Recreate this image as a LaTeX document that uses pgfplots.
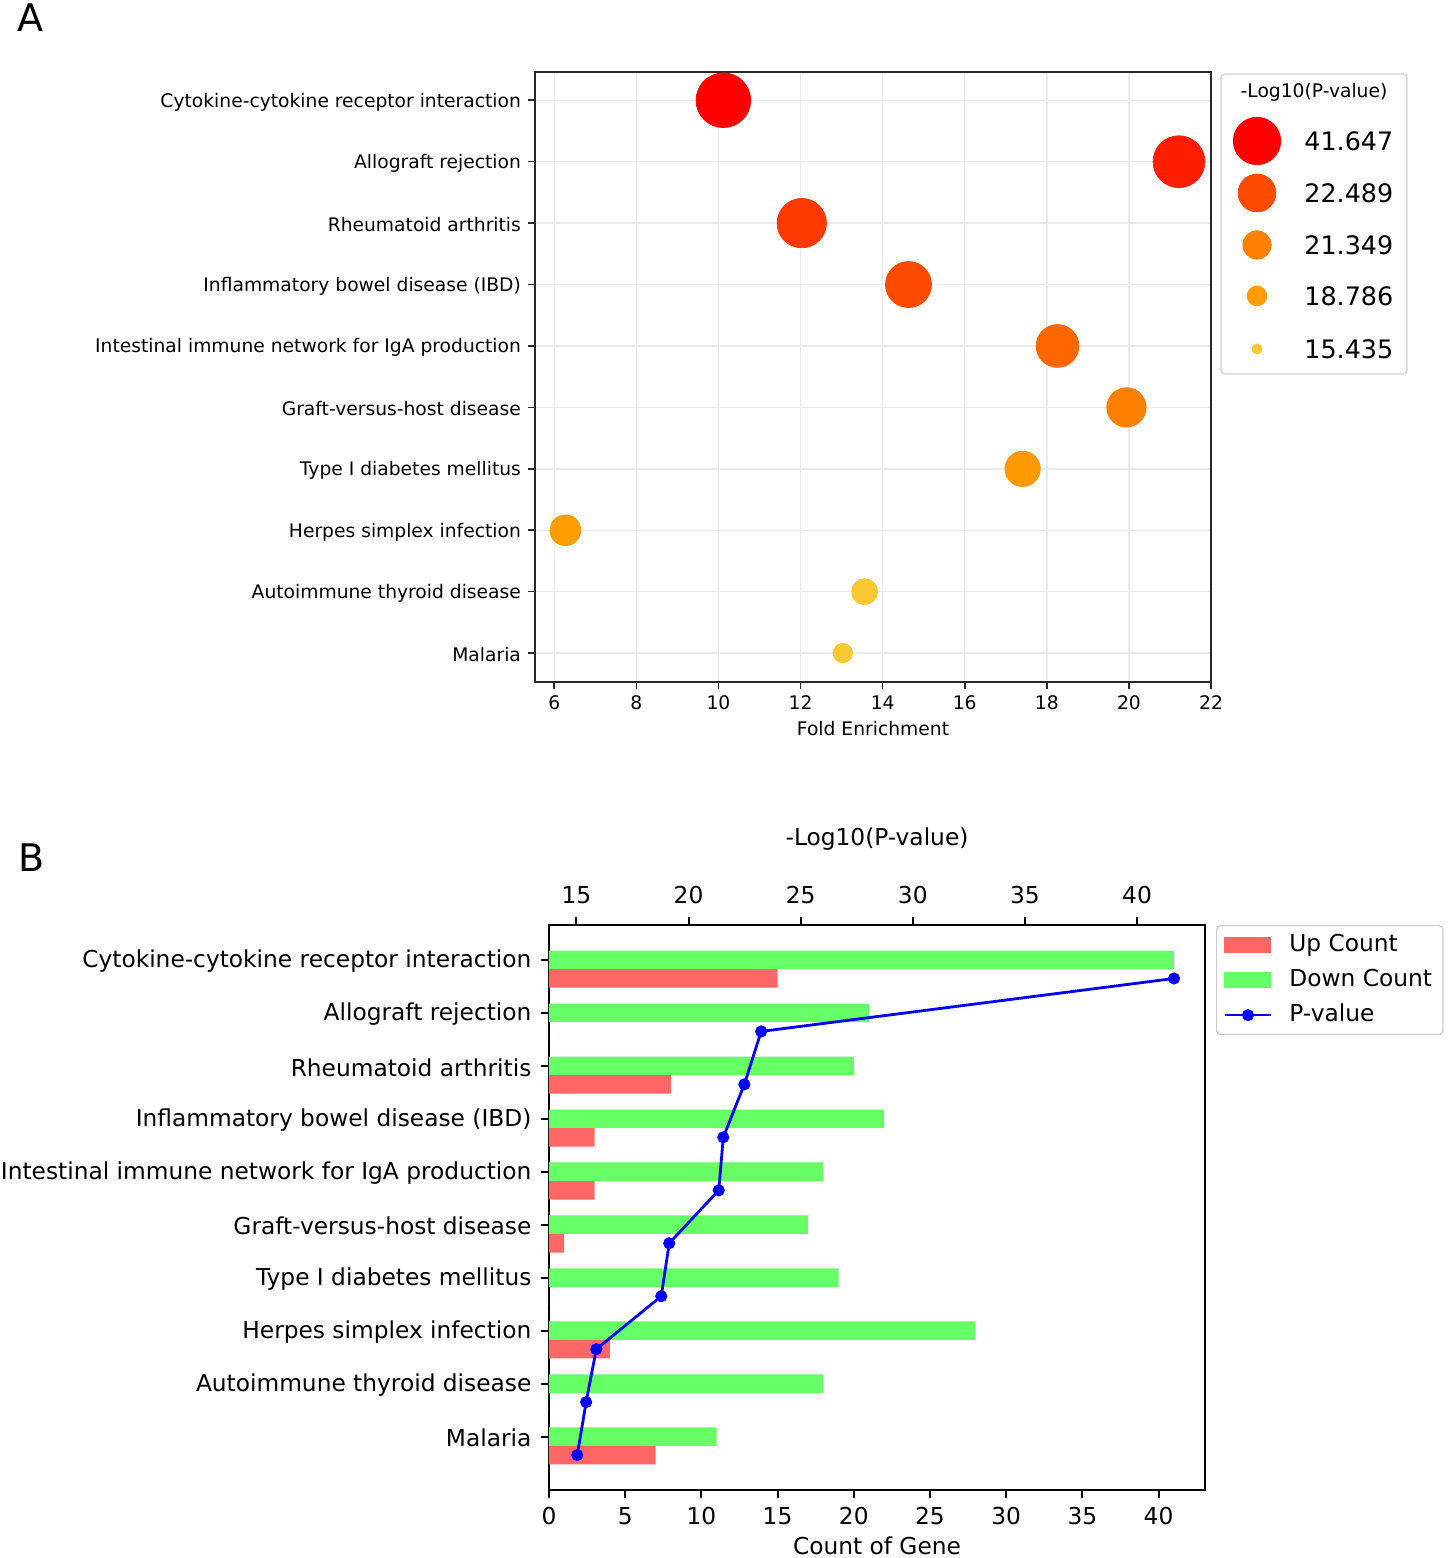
\documentclass[border=0pt]{standalone}
\usepackage{pgfplots}
\pgfplotsset{compat=1.18}
\usepackage{pgfplotstable}
\usepackage{fontspec}
\setmainfont{DejaVu Sans}

\definecolor{gridc}{RGB}{235,235,235}
\definecolor{upc}{HTML}{FF6666}
\definecolor{downc}{HTML}{66FF66}
\definecolor{axc}{RGB}{40,40,40}
\definecolor{b0}{HTML}{FF0000}
\definecolor{b1}{HTML}{FF1E00}
\definecolor{b2}{HTML}{FF3A00}
\definecolor{b3}{HTML}{FF4B00}
\definecolor{b4}{HTML}{FF6600}
\definecolor{b5}{HTML}{FF8000}
\definecolor{b6}{HTML}{FF9900}
\definecolor{b7}{HTML}{FF9C00}
\definecolor{b8}{HTML}{FAC832}
\definecolor{b9}{HTML}{FAC832}
\definecolor{l1}{HTML}{FF4B00}
\definecolor{l2}{HTML}{FF8000}

\newcommand{\fA}{\fontsize{9.35}{11}\selectfont}
\newcommand{\fB}{\fontsize{11.65}{14}\selectfont}

% Panel A: fold enrichment, row, -log10 p, class (bubble size/colour)
\pgfplotstableread{
fe idx pv cls
10.12 0 41.647 c0
21.22 1 23.24 c1
12.03 2 22.489 c2
14.63 3 21.55 c3
18.26 4 21.349 c4
19.94 5 19.14 c5
17.41 6 18.786 c6
6.27 7 15.89 c7
13.56 8 15.435 c8
13.03 9 15.04 c9
}\bubbles

% Panel A legend keys (positions in legend box)
\pgfplotstableread{
x y cls
1257 141 k0
1257 193 k1
1257 245 k2
1257 296 k3
1257 349 k4
}\legA

% Panel B
\pgfplotstableread{
idx down up pv
0 41 15 41.647
1 21 0 23.24
2 20 8 22.489
3 22 3 21.55
4 18 3 21.349
5 17 1 19.14
6 19 0 18.786
7 28 4 15.89
8 18 0 15.435
9 11 7 15.04
}\barsB

\def\cats{{Cytokine-cytokine receptor interaction},{Allograft rejection},{Rheumatoid arthritis},{Inflammatory bowel disease (IBD)},{Intestinal immune network for IgA production},{Graft-versus-host disease},{Type I diabetes mellitus},{Herpes simplex infection},{Autoimmune thyroid disease},{Malaria}}

\pgfplotsset{/pgf/number format/assume math mode=true}

\begin{document}
\begin{tikzpicture}
\useasboundingbox (0,0) rectangle (723.5pt,779pt);

% Panel labels
\node[anchor=base west, inner sep=0pt, font=\fontsize{19}{22}\selectfont] at (8.5pt,763pt) {A};
\node[anchor=base west, inner sep=0pt, font=\fontsize{19}{22}\selectfont] at (9pt,343pt) {B};

% ---------------- Panel A ----------------
\begin{axis}[
  at={(267.5pt,438pt)}, anchor=south west,
  scale only axis, width=338pt, height=305pt,
  xmin=5.53, xmax=22, ymin=-0.46, ymax=9.47, y dir=reverse,
  xtick={6,8,...,22}, ytick={0,...,9}, yticklabels/.expand once=\cats,
  grid=major, grid style={gridc, line width=0.75pt},
  axis line style={axc, line width=0.8pt},
  tick style={axc, line width=0.8pt},
  tick align=outside, major tick length=3.5pt, tick pos=left,
  tick label style={font=\fA},
  yticklabel style={yshift=-0.8pt},
  xlabel={Fold Enrichment},
  xlabel style={font=\fA, at={(axis description cs:0.5,0)}, anchor=center, yshift=-23.5pt},
  clip=false,
]
\addplot[scatter, only marks, point meta=explicit symbolic,
  scatter/classes={
    c0={mark=*, mark size=13.65pt, draw=b0, fill=b0},
    c1={mark=*, mark size=12.95pt, draw=b1, fill=b1},
    c2={mark=*, mark size=12.33pt, draw=b2, fill=b2},
    c3={mark=*, mark size=11.5pt, draw=b3, fill=b3},
    c4={mark=*, mark size=10.68pt, draw=b4, fill=b4},
    c5={mark=*, mark size=9.83pt, draw=b5, fill=b5},
    c6={mark=*, mark size=8.83pt, draw=b6, fill=b6},
    c7={mark=*, mark size=7.68pt, draw=b7, fill=b7},
    c8={mark=*, mark size=6.5pt, draw=b8, fill=b8},
    c9={mark=*, mark size=4.83pt, draw=b9, fill=b9}}]
  table[x=fe, y=idx, meta=cls] {\bubbles};
\end{axis}

% Panel A legend
\begin{axis}[
  at={(610.5pt,592pt)}, anchor=south west,
  scale only axis, width=93pt, height=150pt,
  xmin=1221, xmax=1407, ymin=74, ymax=374, y dir=reverse,
  axis lines=none,
  axis background/.style={draw=black!18, rounded corners=2pt, line width=0.6pt, fill=white},
  clip=false,
]
\addplot[scatter, only marks, point meta=explicit symbolic,
  scatter/classes={
    k0={mark=*, mark size=11.83pt, draw=b0, fill=b0},
    k1={mark=*, mark size=9.43pt, draw=l1, fill=l1},
    k2={mark=*, mark size=7.08pt, draw=l2, fill=l2},
    k3={mark=*, mark size=4.93pt, draw=b7, fill=b7},
    k4={mark=*, mark size=2.5pt, draw=b8, fill=b8}}]
  table[x=x, y=y, meta=cls] {\legA};
\node[anchor=center, font=\fA] at (axis cs:1314,92) {-Log10(P-value)};
\node[anchor=west, inner sep=0pt, font=\fontsize{12.7}{15}\selectfont] at (axis cs:1304,141) {41.647};
\node[anchor=west, inner sep=0pt, font=\fontsize{12.7}{15}\selectfont] at (axis cs:1304,193) {22.489};
\node[anchor=west, inner sep=0pt, font=\fontsize{12.7}{15}\selectfont] at (axis cs:1304,245) {21.349};
\node[anchor=west, inner sep=0pt, font=\fontsize{12.7}{15}\selectfont] at (axis cs:1304,296) {18.786};
\node[anchor=west, inner sep=0pt, font=\fontsize{12.7}{15}\selectfont] at (axis cs:1304,349) {15.435};
\end{axis}

% ---------------- Panel B ----------------
\begin{axis}[
  at={(274.5pt,34pt)}, anchor=south west,
  scale only axis, width=328pt, height=282.5pt,
  xmin=0, xmax=43.05, ymin=-0.66, ymax=10.01, y dir=reverse,
  xtick={0,5,...,40}, ytick={0,...,9}, yticklabels/.expand once=\cats,
  axis line style={black, line width=1pt},
  tick style={black, line width=1pt},
  tick align=outside, major tick length=3.75pt, tick pos=left,
  tick label style={font=\fB},
  xticklabel style={yshift=-1.5pt},
  yticklabel style={xshift=-1.5pt, yshift=-0.8pt},
  xlabel={Count of Gene},
  xlabel style={font=\fB, at={(axis description cs:0.5,0)}, anchor=center, yshift=-28pt},
]
\addplot[xbar, bar width=0.35, bar shift=0pt, fill=downc, draw=none] table[x=down, y=idx] {\barsB};
\addplot[xbar, bar width=0.35, bar shift=0pt, fill=upc, draw=none] table[x=up, y expr=\thisrow{idx}+0.35] {\barsB};
\end{axis}

\begin{axis}[
  at={(274.5pt,34pt)}, anchor=south west,
  scale only axis, width=328pt, height=282.5pt,
  xmin=13.78, xmax=43.03, ymin=-0.66, ymax=10.01, y dir=reverse,
  axis x line*=top, axis y line=none,
  xtick={15,20,...,40},
  axis line style={black, line width=1pt},
  tick style={black, line width=1pt},
  tick align=outside, major tick length=3.75pt,
  tick label style={font=\fB},
  xticklabel style={yshift=3.5pt},
  xlabel={-Log10(P-value)},
  xlabel style={font=\fB, at={(axis description cs:0.5,1)}, anchor=center, yshift=43pt},
  legend style={at={(1,1)}, anchor=north west, xshift=5.5pt,
    draw=black!20, rounded corners=2pt, line width=0.6pt,
    font=\fB, inner xsep=3.5pt, inner ysep=2.5pt, row sep=3pt,
    nodes={text height=8.5pt, text depth=2pt, inner sep=2pt},
    /tikz/every odd column/.append style={column sep=6.5pt}},
  legend cell align=left,
]
\addlegendimage{legend image code/.code={\fill[upc, sharp corners] (0pt,-3.9pt) rectangle (22.8pt,3.9pt);}}
\addlegendentry{Up Count}
\addlegendimage{legend image code/.code={\fill[downc, sharp corners] (0pt,-3.9pt) rectangle (22.8pt,3.9pt);}}
\addlegendentry{Down Count}
\addplot[blue, line width=1.4pt, mark=*, mark size=2.3pt, mark options={fill=blue, draw=blue},
  legend image code/.code={\draw[blue, line width=1.4pt, sharp corners] (0pt,0pt) -- (23pt,0pt); \fill[blue] (11.5pt,0pt) circle (2.3pt);}]
  table[x=pv, y expr=\thisrow{idx}+0.35] {\barsB};
\addlegendentry{P-value}
\end{axis}

\end{tikzpicture}
\end{document}
